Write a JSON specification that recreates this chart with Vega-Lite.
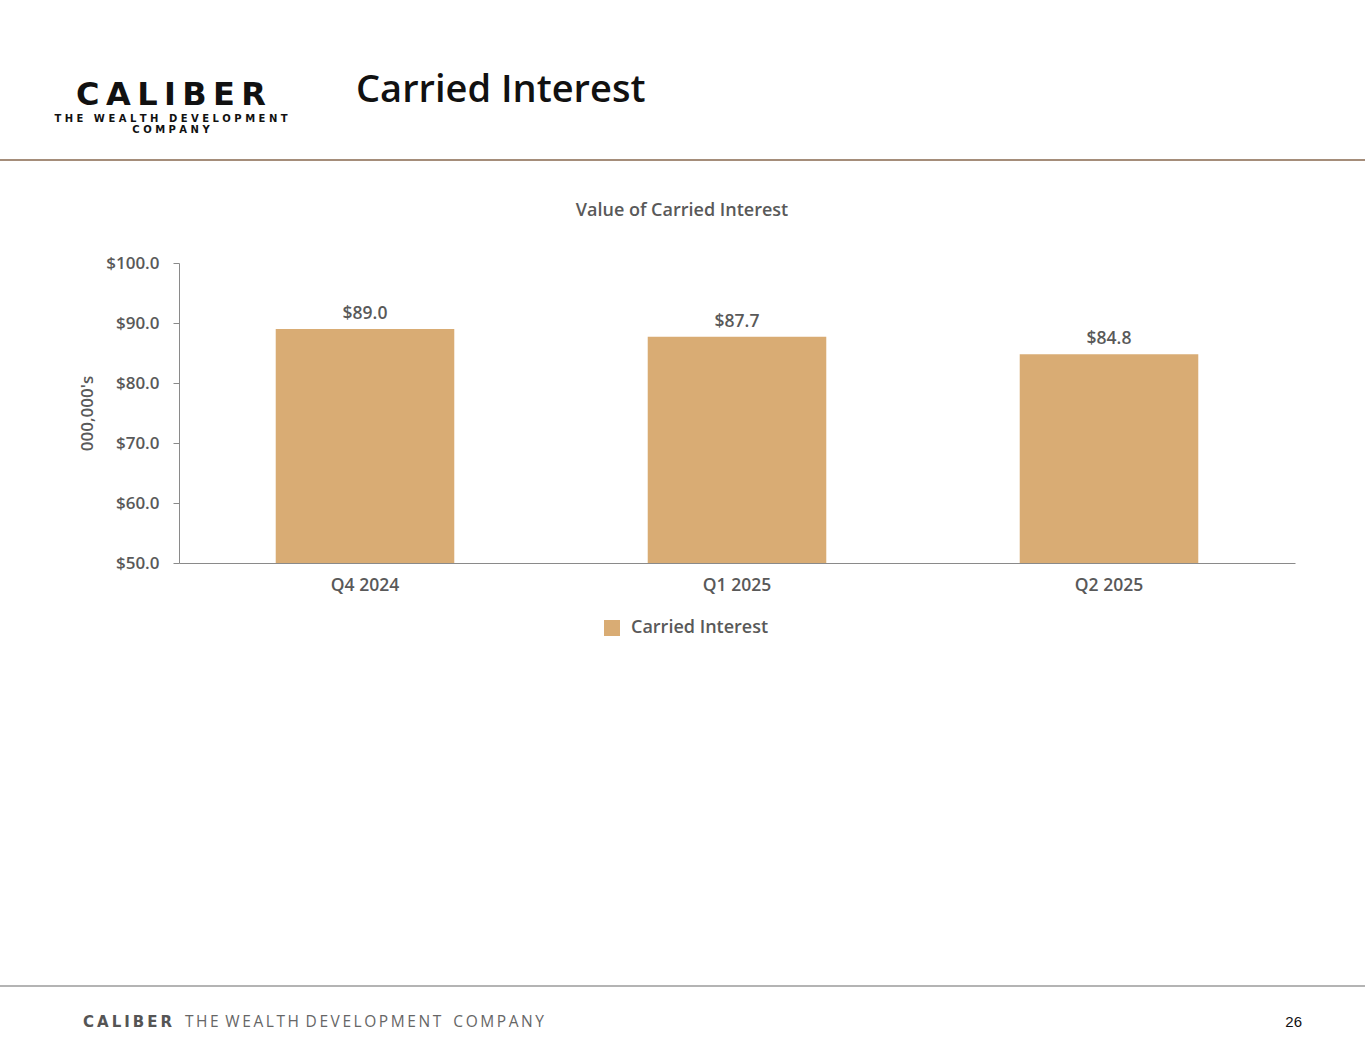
{
  "$schema": "https://vega.github.io/schema/vega-lite/v6.json",
  "padding": 0,
  "background": "white",
  "config": {"view": {"stroke": null}, "font": "Open Sans"},
  "datasets": {
    "carried": [
      {"quarter": "Q4 2024", "value": 89.0, "series": "Carried Interest"},
      {"quarter": "Q1 2025", "value": 87.7, "series": "Carried Interest"},
      {"quarter": "Q2 2025", "value": 84.8, "series": "Carried Interest"}
    ]
  },
  "columns": 2,
  "spacing": 0,
  "bounds": "flush",
  "align": "each",
  "concat": [
    {"width": 179, "height": 159, "data": {"values": []}, "mark": "point"},
    {"width": 1186, "height": 159, "data": {"values": []}, "mark": "point"},
    {
      "width": 179, "height": 2, "data": {"values": []}, "mark": "point",
      "view": {"fill": "#a58d7a", "stroke": null},
      "title": {
        "text": "C\u2009A\u2009L\u2009I\u2009B\u2009E\u2009R",
        "subtitle": ["T H E \u00a0\u00a0W E A L T H \u00a0\u00a0D E V E L O P M E N T", "C O M P A N Y"],
        "frame": "group", "anchor": "middle", "dx": 81.5, "offset": 23,
        "font": "DejaVu Sans", "fontSize": 32, "fontWeight": "bold", "color": "#111111",
        "subtitleFont": "DejaVu Sans", "subtitleFontSize": 10, "subtitleFontWeight": "bold",
        "subtitleColor": "#111111", "subtitlePadding": 2, "subtitleLineHeight": 11
      }
    },
    {
      "width": 1186, "height": 2, "data": {"values": []}, "mark": "point",
      "view": {"fill": "#a58d7a", "stroke": null},
      "title": {
        "text": "Carried Interest", "frame": "group", "anchor": "start", "dx": 177, "offset": 49,
        "fontSize": 38, "fontWeight": 600, "color": "#111111"
      }
    },
    {"width": 179, "height": 102, "data": {"values": []}, "mark": "point"},
    {"width": 1186, "height": 102, "data": {"values": []}, "mark": "point"},
    {"width": 179, "height": 300, "data": {"values": []}, "mark": "point"},
    {
      "width": 1116, "height": 300,
      "data": {"name": "carried"},
      "title": {
        "text": "Value of Carried Interest", "frame": "group", "anchor": "middle", "dx": -55, "offset": 34,
        "fontSize": 18, "fontWeight": 600, "color": "#595959"
      },
      "encoding": {
        "x": {
          "field": "quarter", "type": "nominal", "sort": null,
          "scale": {"paddingInner": 0.52, "paddingOuter": 0.26},
          "axis": {
            "title": null, "labelAngle": 0, "ticks": false, "tickSize": 0, "labelPadding": 13,
            "labelFontSize": 17.5, "labelFontWeight": 600, "labelColor": "#595959",
            "domainColor": "#8a8a8a", "domainWidth": 1
          }
        }
      },
      "layer": [
        {
          "mark": {"type": "bar"},
          "encoding": {
            "y": {
              "field": "value", "type": "quantitative",
              "scale": {"domain": [50, 100], "zero": false, "nice": false},
              "axis": {
                "values": [50, 60, 70, 80, 90, 100], "format": "$.1f", "grid": false,
                "tickSize": 6, "tickColor": "#8a8a8a", "domainColor": "#8a8a8a",
                "labelPadding": 14, "labelFontSize": 17, "labelFontWeight": 600, "labelColor": "#595959",
                "title": "000,000's", "titleFontSize": 17, "titleFontWeight": 600, "titleColor": "#595959",
                "titlePadding": 9
              }
            },
            "y2": {"datum": 50},
            "color": {
              "field": "series", "type": "nominal",
              "scale": {"range": ["#D9AC74"]},
              "legend": {
                "title": null, "orient": "none", "legendX": 603, "legendY": 619, "padding": 0,
                "symbolType": "square", "symbolSize": 256, "symbolStrokeWidth": 0, "symbolOpacity": 1,
                "labelFontSize": 18, "labelFontWeight": 600, "labelColor": "#595959", "labelOffset": 10
              }
            }
          }
        },
        {
          "mark": {"type": "text", "baseline": "alphabetic", "dy": -10, "fontSize": 17.5, "fontWeight": 600, "color": "#595959"},
          "encoding": {
            "y": {"field": "value", "type": "quantitative"},
            "text": {"field": "value", "type": "quantitative", "format": "$.1f"}
          }
        }
      ]
    },
    {"width": 179, "height": 422, "data": {"values": []}, "mark": "point"},
    {"width": 1186, "height": 422, "data": {"values": []}, "mark": "point"},
    {
      "width": 179, "height": 2, "data": {"values": []}, "mark": "point",
      "view": {"fill": "#b4b4b4", "stroke": null},
      "title": {
        "text": "C\u2009A\u2009L\u2009I\u2009B\u2009E\u2009R", "orient": "bottom", "frame": "group", "anchor": "end",
        "dx": -7, "offset": 28, "font": "DejaVu Sans", "fontSize": 15, "fontWeight": "bold", "color": "#555555"
      }
    },
    {
      "width": 1186, "height": 2, "data": {"values": []}, "mark": "point",
      "view": {"fill": "#b4b4b4", "stroke": null},
      "title": {
        "text": "T\u2009H\u2009E\u00a0\u2009W\u2009E\u2009A\u2009L\u2009T\u2009H\u00a0\u2009D\u2009E\u2009V\u2009E\u2009L\u2009O\u2009P\u2009M\u2009E\u2009N\u2009T\u00a0\u00a0\u00a0C\u2009O\u2009M\u2009P\u2009A\u2009N\u2009Y",
        "orient": "bottom", "frame": "group", "anchor": "start",
        "dx": 6, "offset": 28, "fontSize": 15.5, "fontWeight": 400, "color": "#666666"
      }
    },
    {"width": 179, "height": 28, "data": {"values": []}, "mark": "point"},
    {
      "width": 1186, "height": 28, "data": {"values": []}, "mark": "point",
      "title": {
        "text": "26", "orient": "bottom", "frame": "group", "anchor": "end",
        "dx": -63, "offset": 0, "font": "Liberation Sans", "fontSize": 15, "fontWeight": 400, "color": "#111111"
      }
    }
  ]
}
